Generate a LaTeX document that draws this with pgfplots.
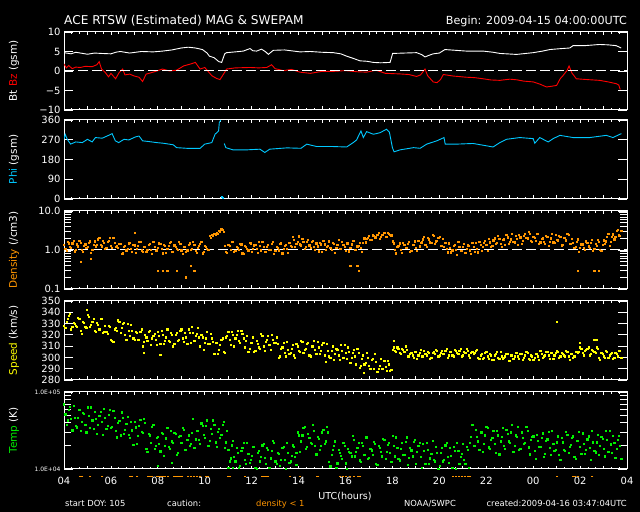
\documentclass[border=0pt]{standalone}
\usepackage{fontspec}
\setmainfont{DejaVu Sans}
\usepackage{pgfplots}
\usepackage{pgfplotstable}
\pgfplotsset{compat=1.18}

\definecolor{phic}{RGB}{0,200,255}
\definecolor{denc}{RGB}{255,150,0}
\definecolor{spdc}{RGB}{255,255,0}
\definecolor{tmpc}{RGB}{0,240,0}

% SWEPAM samples: hour since 04 UTC, two density, two speed, two temp values per row
% (the second sample of each row sits half a step later)
\pgfplotstableread{
h d1 d2 v1 v2 t1 t2
0.0 1.35 1.08 328 326 69600 51500
0.1 0.96 1.63 332 334 37700 43100
0.2 1.50 1.20 337 339 58300 63700
0.3 1.13 1.50 325 327 45100 31900
0.4 1.75 0.93 331 330 66700 46900
0.5 1.04 1.40 328 327 36100 35000
0.6 1.25 1.75 335 334 46900 58500
0.7 1.56 1.00 324 321 31800 41300
0.8 0.90 1.30 332 331 53800 52000
0.9 1.40 1.13 327 326 37800 30100
1.0 1.20 1.56 338 336 63600 49000
1.1 1.69 0.86 327 329 34400 63600
1.2 1.00 1.35 332 334 43000 33100
1.3 1.68 1.25 324 323 55900 45200
1.4 1.35 1.89 331 329 28800 37800
1.5 2.10 1.39 325 334 49000 55900
1.6 1.25 1.74 334 322 41300 28000
1.7 1.57 1.07 323 328 61100 46900
1.8 1.12 1.62 323 321 33100 36100
1.9 1.74 2.03 328 327 51200 58500
2.0 1.31 1.16 316 315 34000 35500
2.1 2.03 1.51 314 325 57400 46300
2.2 1.20 1.31 326 324 31100 25900
2.3 1.15 1.44 333 332 40300 42200
2.4 1.44 0.79 322 326 27400 54800
2.5 0.83 1.24 330 331 46300 28500
2.6 1.29 0.99 320 316 32600 38900
2.7 1.10 1.50 330 324 47400 28200
2.8 1.55 1.10 319 329 25600 41600
2.9 0.92 1.38 324 317 32000 20800
3.0 1.33 0.85 316 323 41600 34900
3.1 1.07 1.29 322 316 21400 26900
3.2 1.67 1.61 316 323 36500 43500
3.3 0.99 0.92 325 310 30700 29500
3.4 1.24 1.20 314 320 45400 40000
3.5 0.89 1.04 318 315 18500 16800
3.6 1.38 1.44 323 324 28600 27400
3.7 1.04 0.79 311 317 22100 35500
3.8 1.61 1.24 319 321 37200 18500
3.9 0.95 0.99 316 311 20200 25200
4.0 1.15 1.50 323 319 26200 21100
4.1 1.44 1.10 312 324 17000 29900
4.2 0.83 1.38 320 312 28800 15000
4.3 1.29 0.85 315 318 20200 25100
4.4 1.10 1.29 325 315 34000 19300
4.5 1.55 1.61 314 322 18400 31300
4.6 0.92 0.90 320 310 23000 22100
4.7 1.33 1.20 312 320 29900 28800
4.8 1.07 1.04 322 315 15400 16100
4.9 1.67 1.44 316 324 26200 27000
5.0 0.99 0.79 325 317 22100 34000
5.1 1.24 1.22 314 322 32700 17700
5.2 0.89 0.99 318 312 17700 24200
5.3 1.38 1.50 325 322 27400 20200
5.4 1.04 1.10 313 327 21200 29900
5.5 1.61 1.38 322 315 45000 18900
5.6 0.95 0.85 319 321 24400 31600
5.7 1.15 1.29 326 318 31600 24000
5.8 1.44 1.61 310 320 21500 39400
5.9 0.83 0.92 318 307 36300 27800
6.0 1.29 1.20 313 317 25500 36300
6.1 1.10 1.04 323 312 42900 20300
6.2 2.30 2.10 312 321 23200 33100
6.3 2.45 2.30 317 314 29000 42900
6.4 2.60 2.50 303 313 37700 22300
6.5 2.75 2.65 313 303 19400 30500
6.6 3.10 2.90 307 311 33100 25500
6.7 3.40 3.25 316 317 27800 37700
6.8 2.90 1.30 305 304 41200 18900
6.9 0.89 0.85 318 319 22300 31600
7.0 1.38 1.29 323 316 17900 12600
7.1 1.04 1.61 311 323 13800 20400
7.2 1.61 0.92 320 310 23300 14400
7.3 0.95 1.20 317 320 12600 18800
7.4 1.15 1.04 324 315 16400 10500
7.5 1.44 1.40 313 324 11100 17100
7.6 0.83 0.79 321 317 18800 22200
7.7 1.29 1.24 309 315 13200 11600
7.8 1.10 0.99 319 305 22200 15800
7.9 1.55 1.50 308 313 12000 13200
8.0 0.92 1.10 313 318 15000 19500
8.1 1.33 1.38 305 306 19500 10400
8.2 1.07 0.85 315 312 10100 16400
8.3 1.67 1.29 309 308 17100 12600
8.4 0.99 1.61 321 319 14400 20400
8.5 1.24 0.92 310 306 21300 14000
8.6 0.89 1.20 314 316 11600 18800
8.7 1.38 1.04 319 311 17900 10500
8.8 1.04 1.44 307 320 13800 17100
8.9 1.61 0.79 316 313 23300 22200
9.0 0.95 1.24 313 318 12600 11600
9.1 1.15 0.99 312 300 16400 15800
9.2 1.44 1.50 301 308 11100 13200
9.3 0.83 1.10 309 313 18800 19500
9.4 1.29 1.38 304 301 13200 10200
9.5 1.10 0.85 314 307 22200 16400
9.6 1.55 1.29 303 304 12000 12600
9.7 1.24 2.17 308 311 15000 20400
9.8 1.80 1.24 302 300 19500 14400
9.9 1.44 1.61 312 310 16100 30000
10.0 2.25 1.40 306 305 27400 16800
10.1 1.33 1.94 315 314 23000 27400
10.2 1.67 1.07 304 307 34100 35500
10.3 1.19 1.67 308 312 18500 19500
10.4 1.86 1.33 313 302 28600 25200
10.5 1.13 1.63 301 310 22100 21100
10.6 1.75 1.20 310 315 37200 31200
10.7 1.04 1.50 307 303 20200 15600
10.8 1.25 0.93 314 309 26200 25000
10.9 1.56 1.40 303 306 17800 20200
11.0 0.90 1.75 311 313 30000 32600
11.1 1.40 1.00 302 296 21100 23000
11.2 1.20 1.30 312 306 35500 30000
11.3 1.69 1.13 301 300 12400 10900
11.4 1.00 1.56 306 310 15500 17700
11.5 1.45 0.86 298 303 20200 22900
11.6 1.16 1.35 308 307 10400 11900
11.7 1.81 1.08 302 298 17700 16300
11.8 1.08 1.63 311 306 14900 13600
11.9 1.35 1.20 300 311 22000 20200
12.0 0.96 1.50 304 299 11900 10100
12.1 1.50 0.93 309 305 18400 16900
12.2 1.13 1.40 295 300 16100 14700
12.3 1.75 1.70 304 307 27100 23800
12.4 1.04 1.00 301 294 14700 16800
12.5 1.25 1.30 308 304 19100 21900
12.6 1.56 1.13 291 293 13000 12300
12.7 0.90 1.56 299 302 21900 20000
12.8 2.01 1.58 294 295 15400 25900
12.9 1.91 2.03 304 300 25900 13500
13.0 2.32 1.85 293 290 14000 18400
13.1 1.88 2.39 298 299 17500 15400
13.2 2.32 2.11 290 303 22800 21500
13.3 2.13 2.41 296 287 11700 11400
13.4 2.77 1.98 290 293 20000 19100
13.5 2.18 2.49 299 290 16800 14700
13.6 2.49 2.84 290 297 24900 23800
13.7 2.19 2.24 292 288 13500 16800
13.8 2.79 2.60 297 294 20800 21900
13.9 2.47 2.40 288 289 16100 12300
14.0 1.68 1.50 307 309 27100 20000
14.1 1.00 0.83 306 305 14700 25900
14.2 1.20 1.30 309 308 19100 13500
14.3 1.50 1.03 304 303 13000 18400
14.4 0.86 1.56 308 307 21900 15400
14.5 1.34 1.15 305 310 15400 22800
14.6 1.15 1.44 307 301 25900 11400
14.7 1.62 0.89 301 303 14000 19100
14.8 0.96 1.34 304 302 17500 14700
14.9 1.39 1.68 300 305 22800 23800
15.0 1.12 0.96 305 299 11700 16800
15.1 1.74 1.25 302 304 20000 21900
15.2 1.51 1.58 307 301 14400 10500
15.3 1.89 2.19 301 306 21300 17100
15.4 1.35 1.21 303 302 11600 22200
15.5 2.10 1.89 305 304 17900 11600
15.6 1.58 1.51 299 300 13800 15800
15.7 2.45 2.28 304 305 23300 13200
15.8 1.45 1.68 303 307 12600 19500
15.9 1.75 2.10 306 301 16400 10200
16.0 2.19 1.30 302 304 11100 16400
16.1 1.26 1.96 306 303 18800 12600
16.2 1.23 1.54 303 306 13200 20400
16.3 1.06 0.88 308 300 22200 14400
16.4 1.49 1.14 302 305 12000 18800
16.5 0.88 0.99 305 302 15000 10500
16.6 1.28 1.38 301 307 19500 17100
16.7 1.02 0.76 306 304 10100 22200
16.8 1.60 1.19 303 306 17100 11600
16.9 0.95 0.97 308 301 14400 15800
17.0 1.19 1.43 302 305 21300 13200
17.1 0.85 1.06 304 308 11600 19500
17.2 1.32 1.30 306 302 17900 10300
17.3 0.99 0.81 300 304 22100 26200
17.4 1.54 1.23 305 303 37200 20200
17.5 0.91 1.54 304 306 20200 32600
17.6 1.10 0.88 307 300 26200 23000
17.7 1.63 1.35 299 302 17800 30000
17.8 0.96 1.21 303 299 30000 16800
17.9 1.55 1.73 300 304 21100 27400
18.0 1.36 0.98 305 301 35500 34000
18.1 1.97 1.58 299 303 19200 18500
18.2 1.20 1.29 302 298 24000 25200
18.3 1.79 2.00 298 302 31200 21100
18.4 1.47 1.52 303 305 16100 31200
18.5 2.35 1.94 300 299 27400 15600
18.6 1.43 1.23 305 301 23000 26200
18.7 1.84 1.90 299 300 34100 20200
18.8 1.34 2.44 301 303 18500 32600
18.9 2.14 1.42 303 297 28600 23000
19.0 1.64 1.89 297 302 22100 30000
19.1 2.60 1.67 302 299 37200 16800
19.2 1.58 2.38 301 304 20200 27400
19.3 1.94 1.34 304 301 26200 35500
19.4 2.48 2.14 299 303 17800 18500
19.5 1.45 1.74 303 298 30000 25200
19.6 2.31 2.68 300 302 21100 22000
19.7 2.02 2.00 305 304 35500 31200
19.8 2.89 2.57 299 298 19200 15600
19.9 1.74 1.61 302 301 24000 26200
20.0 2.15 2.07 298 300 26700 17200
20.1 1.72 2.59 303 303 13700 27900
20.2 2.68 1.48 301 298 23400 19700
20.3 1.59 1.92 306 303 19700 25600
20.4 2.00 1.67 300 301 29100 14400
20.5 1.42 2.31 302 305 15800 23400
20.6 2.22 1.28 305 302 24400 30300
20.7 1.67 2.00 299 304 18900 15500
20.8 2.59 1.59 304 299 31800 21500
20.9 1.54 2.41 302 304 17200 18000
21.0 1.85 1.78 306 305 22300 26700
21.1 2.31 2.22 300 301 15200 13300
21.2 1.33 1.37 304 303 25600 22300
21.3 2.07 2.10 302 301 18000 17200
21.4 1.78 2.59 306 305 30300 27900
21.5 2.50 1.48 301 298 16400 19700
21.6 1.48 1.92 303 303 20500 25600
21.7 1.51 1.17 300 301 26700 14400
21.8 1.21 1.63 305 305 13700 23400
21.9 1.89 0.90 304 305 23400 30300
22.0 1.12 1.40 309 308 19700 15800
22.1 1.40 1.12 304 302 29100 21500
22.2 1.00 1.69 306 307 15800 18000
22.3 1.56 1.25 308 309 24400 26700
22.4 1.17 1.56 302 303 18900 13300
22.5 1.82 0.96 307 306 31800 22300
22.6 1.08 1.46 305 304 17200 16500
22.7 1.30 1.82 309 308 22300 27900
22.8 1.63 1.04 300 298 15500 20200
22.9 0.94 1.35 304 303 26300 25000
23.0 1.79 1.44 301 300 18500 14700
23.1 1.68 2.19 306 305 31100 23900
23.2 2.57 1.31 300 302 16800 31100
23.3 1.64 2.21 303 304 21000 16200
23.4 2.55 1.89 299 300 27300 22100
23.5 2.19 3.06 304 303 14100 18500
23.6 3.30 2.40 301 306 23900 27300
23.7 2.28 3.18 306 300 20200 13700
}\swepam

\pgfplotsset{
  ace/.style={
    scale only axis, width=563bp, anchor=south west,
    xmin=0, xmax=24,
    axis line style={white, line width=1bp},
    tick style={white, line width=0.8bp},
    tick align=inside,
    major tick length=9bp, minor tick length=7bp,
    xtick={0,1,...,24}, minor x tick num=2,
    xtick style={/pgfplots/major tick length=3.5bp, /pgfplots/minor tick length=2bp},
    xticklabels={},
    ticklabel style={white, font=\fontsize{10}{12}\selectfont},
    ylabel style={at={(axis description cs:-0.0888,0.5)}, anchor=center,
      font=\fontsize{10.5}{12}\selectfont},
  },
  dots/.style={only marks, mark=square*, mark size=0.6bp, mark options={draw=none}},
}

\begin{document}
\begin{tikzpicture}
\fill[black] (0,0) rectangle (640bp,512bp);
\useasboundingbox (0,0) rectangle (640bp,512bp);

% Bt / Bz
\begin{axis}[ace, at={(64bp,402bp)}, height=78bp,
  ymin=-10, ymax=10, ytick={-10,-5,0,5,10}, yticklabels={−10,−5,0,5,10},
  ylabel={\textcolor{white}{Bt} \textcolor{red}{Bz} \textcolor{white}{(gsm)}}]
\addplot[white, line width=0.9bp] coordinates {
(0,4.7) (0.3,4.4) (0.5,4.8) (0.7,4.6) (1.0,4.3) (1.3,4.6) (1.6,4.5) (2.0,4.4) (2.2,4.8)
(2.4,5.0) (2.8,4.6) (3.3,5.0) (3.8,4.9) (4.2,5.1) (4.6,5.4) (5.0,5.9) (5.3,6.1) (5.6,5.9)
(5.9,5.5) (6.1,4.6) (6.2,3.8) (6.4,3.4) (6.6,2.4) (6.72,2.2) (6.85,4.4) (6.93,4.7) (7.3,4.9)
(7.64,5.1) (7.93,5.75) (8.05,5.2) (8.21,5.1) (8.42,5.6) (8.6,4.9) (8.71,4.25) (8.92,5.3)
(9.4,5.4) (10.06,4.9) (10.5,5.0) (11.0,4.8) (11.48,4.7) (11.8,4.4) (12.05,3.8) (12.3,3.3)
(12.62,2.6) (12.9,2.5) (13.19,2.2) (13.5,2.1) (13.9,2.2) (14.01,4.5) (14.5,4.6) (15.03,4.7)
(15.25,4.2) (15.39,3.6) (15.55,4.0) (15.74,4.4) (16.0,4.6) (16.24,5.5) (16.7,5.3) (17.16,5.1)
(17.87,5.1) (18.3,4.8) (18.58,4.5) (19.29,4.25) (20.0,4.7) (20.4,5.1) (20.71,5.5) (21.1,5.7)
(21.56,5.9) (21.7,6.5) (22.2,6.5) (22.83,6.8) (23.2,6.7) (23.54,6.5) (23.75,5.9)};
\addplot[red, line width=0.9bp] coordinates {
(0,1.8) (0.1,0.8) (0.2,1.4) (0.35,0.6) (0.5,1.0) (0.7,0.9) (0.9,1.2) (1.2,1.1) (1.4,1.6)
(1.5,2.4) (1.6,0.5) (1.75,-0.3) (1.9,-1.5) (2.0,-0.6) (2.2,-2.0) (2.35,-0.4) (2.5,0.5)
(2.6,-1.0) (2.8,-0.8) (3.0,-1.3) (3.2,-1.6) (3.35,-2.7) (3.5,-0.8) (3.8,-0.3) (4.2,0.5)
(4.5,0.0) (4.8,0.2) (5.1,1.3) (5.4,1.8) (5.6,2.2) (5.8,0.5) (6.0,0.9) (6.3,-1.2) (6.5,-1.9)
(6.65,-2.2) (6.8,-0.8) (6.93,0.5) (7.3,0.8) (7.93,0.9) (8.3,0.8) (8.64,0.9) (8.85,1.6)
(9.0,0.6) (9.35,0.1) (9.7,0.4) (10.06,-0.3) (10.5,-0.6) (11.0,-0.1) (11.48,-0.1) (12.0,0.1)
(12.5,-0.2) (12.9,-0.3) (13.3,0.2) (13.7,-0.6) (14.32,-0.75) (14.7,-0.9) (15.03,-1.4)
(15.2,-1.0) (15.39,0.5) (15.5,-1.2) (15.74,-2.8) (15.9,-3.0) (16.05,-2.2) (16.17,-0.9)
(16.6,-1.3) (17.16,-1.6) (17.5,-1.7) (17.87,-2.0) (18.2,-2.3) (18.58,-2.4) (19.0,-2.1)
(19.29,-2.25) (19.6,-2.6) (20.0,-2.8) (20.3,-3.4) (20.57,-4.1) (20.8,-3.9) (21.0,-3.7)
(21.15,-2.0) (21.27,-1.2) (21.45,0.2) (21.53,1.3) (21.65,-0.5) (21.84,-2.0) (22.3,-2.2)
(22.83,-2.4) (23.2,-2.8) (23.54,-3.25) (23.65,-3.6) (23.71,-4.75)};
\addplot[white, line width=1bp, dash pattern=on 10bp off 4bp] coordinates {(0,0) (24,0)};
\end{axis}

% Phi
\begin{axis}[ace, at={(64bp,313bp)}, height=79bp,
  ymin=0, ymax=360, ytick={0,90,180,270,360}, yticklabels={0,90,180,270,360},
  ylabel={\textcolor{phic}{Phi} \textcolor{white}{(gsm)}}]
\addplot[phic, line width=0.9bp] coordinates {
(0.0,272) (0.05,295) (0.14,272) (0.28,250) (0.5,260) (0.78,257) (1.0,272) (1.2,260)
(1.34,280) (1.63,277) (1.9,290) (2.05,298) (2.19,265) (2.33,257) (2.56,272) (2.76,269)
(3.05,283) (3.2,287) (3.35,265) (3.6,262) (3.95,257) (4.24,254) (4.66,247) (4.8,234)
(5.23,231) (5.8,231) (6.0,250) (6.3,257) (6.44,295) (6.59,310) (6.62,348) (6.68,360)};
\addplot[phic, line width=0.9bp] coordinates {
(6.83,253) (6.9,234) (7.2,224) (7.8,224) (8.35,227) (8.56,212) (8.77,227) (9.5,233)
(10.1,231) (10.35,250) (10.77,239) (11.48,239) (12.05,237) (12.33,257) (12.47,269)
(12.66,310) (12.76,280) (12.9,307) (13.19,295) (13.47,302) (13.75,318) (13.87,305)
(13.93,272) (14.0,234) (14.07,215) (14.33,224) (14.9,234) (15.18,231) (15.46,250)
(15.89,265) (16.2,280) (16.25,250) (16.73,250) (17.44,253) (17.87,245) (18.29,237)
(18.58,257) (18.86,272) (19.43,280) (20.0,275) (20.07,254) (20.28,280) (20.64,260)
(20.85,275) (21.14,290) (21.7,280) (22.41,280) (23.12,290) (23.4,280) (23.76,298)};
\addplot[phic, dots] coordinates {(6.72,12) (6.75,6)};
\end{axis}

% Density
\begin{axis}[ace, at={(64bp,223bp)}, height=78bp,
  ymode=log, ymin=0.1, ymax=10, ytick={0.1,1,10}, yticklabels={0.1,1.0,10.0},
  ylabel={\textcolor{denc}{Density} \textcolor{white}{(/cm3)}}]
\addplot[denc, dots] table[x=h, y=d1] {\swepam};
\addplot[denc, dots] table[x expr=\thisrow{h}+0.05, y=d2] {\swepam};
\addplot[denc, dots] coordinates {
(0.72,0.5) (1.15,0.6) (3.0,2.8) (4.0,0.29) (4.2,0.3) (4.4,0.29) (4.8,0.3) (5.2,0.2)
(5.4,0.39) (5.55,0.29) (12.2,0.39) (12.5,0.39) (12.55,0.29) (21.9,0.3) (22.6,0.3) (22.8,0.3)};
\addplot[white, line width=1bp, dash pattern=on 10bp off 4bp] coordinates {(0,1) (24,1)};
\end{axis}

% Speed
\begin{axis}[ace, at={(64bp,132bp)}, height=79bp,
  ymin=280, ymax=350, ytick={280,290,...,350}, yticklabels={280,290,300,310,320,330,340,350},
  ylabel={\textcolor{spdc}{Speed} \textcolor{white}{(km/s)}}]
\addplot[spdc, dots] table[x=h, y=v1] {\swepam};
\addplot[spdc, dots] table[x expr=\thisrow{h}+0.05, y=v2] {\swepam};
\addplot[spdc, dots] coordinates {
(0.98,342) (3.4,304.4) (4.1,302.6) (12.2,295.6) (12.76,286.7) (14.05,315) (21.0,332)
(22.0,313) (22.6,316) (22.7,316)};
\end{axis}

% Temp
\begin{axis}[ace, at={(64bp,43bp)}, height=77bp, clip=false,
  ymode=log, ymin=1e4, ymax=1e5, ytick={1e4,1e5}, yticklabels={1.0E+04,1.0E+05},
  yticklabel style={font=\fontsize{6}{7}\selectfont},
  xticklabels={04,,06,,08,,10,,12,,14,,16,,18,,20,,22,,00,,02,,04},
  xticklabel style={yshift=-5bp},
  ylabel={\textcolor{tmpc}{Temp} \textcolor{white}{(K)}}]
\addplot[tmpc, dots] table[x=h, y=t1] {\swepam};
\addplot[tmpc, dots] table[x expr=\thisrow{h}+0.05, y=t2] {\swepam};
\addplot[tmpc, dots] coordinates {
(4.0,11000) (4.6,12000) (7.0,10500) (7.2,10300) (9.9,11500)};
% density < 1 caution marks
\addplot[denc, only marks, mark=-, mark size=1.3bp, line width=1bp] coordinates {
(0.68,8100) (0.77,8100) (1.11,8100) (1.62,8100) (2.81,8100) (2.90,8100) (3.11,8100)
(3.58,8100) (3.67,8100) (3.75,8100) (3.96,8100) (4.05,8100) (4.13,8100) (4.22,8100)
(4.31,8100) (4.43,8100) (4.69,8100) (4.77,8100) (4.86,8100) (4.94,8100) (5.03,8100)
(5.29,8100) (5.41,8100) (5.54,8100) (5.67,8100) (5.80,8100) (6.05,8100) (6.14,8100)
(6.99,8100) (7.08,8100) (7.72,8100) (8.44,8100) (8.53,8100) (8.61,8100) (8.70,8100)
(9.63,8100) (10.06,8100) (10.78,8100) (10.83,8100) (11.76,8100) (11.89,8100)
(12.02,8100) (12.19,8100) (12.36,8100) (12.53,8100) (12.62,8100) (16.58,8100)
(16.71,8100) (16.84,8100) (16.97,8100) (17.09,8100) (17.22,8100) (17.31,8100)
(21.01,8100) (21.70,8100) (21.78,8100) (21.91,8100) (22.51,8100)};
\end{axis}

\node[white, anchor=base west, inner sep=0, font=\fontsize{12.2}{14}\selectfont]
  at (64bp,487bp) {ACE RTSW (Estimated) MAG \& SWEPAM};
\node[white, anchor=base east, inner sep=0, font=\fontsize{11.2}{14}\selectfont]
  at (627bp,487bp) {Begin: 2009-04-15 04:00:00UTC};
\node[white, anchor=center, inner sep=0, font=\fontsize{9.6}{11}\selectfont]
  at (345bp,16bp) {UTC(hours)};
\begin{scope}[every node/.style={anchor=base west, inner sep=0, font=\fontsize{8.4}{10}\selectfont}]
\node[white] at (65bp,5.5bp) {start DOY: 105};
\node[white] at (167bp,5.5bp) {caution:};
\node[denc] at (256bp,5.5bp) {density < 1};
\node[white] at (404bp,5.5bp) {NOAA/SWPC};
\node[white, anchor=base east] at (627bp,5.5bp) {created:2009-04-16 03:47:04UTC};
\end{scope}
\end{tikzpicture}
\end{document}
